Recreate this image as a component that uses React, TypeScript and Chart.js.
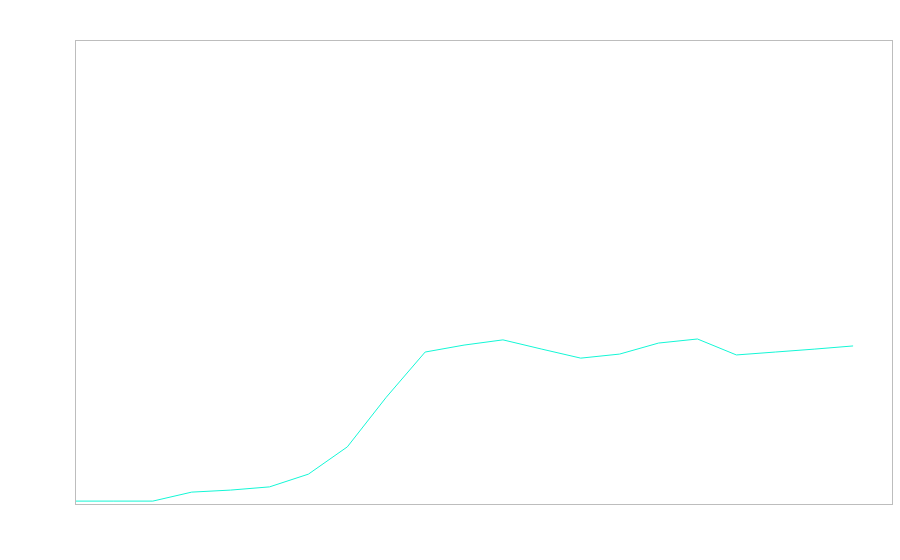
import React, { useEffect, useRef } from "react";
import { Chart, registerables } from "chart.js";

Chart.register(...registerables);

const categories: string[] = [
  "1", "2", "3", "4", "5", "6", "7", "8", "9", "10", "11",
  "12", "13", "14", "15", "16", "17", "18", "19", "20", "21", "22",
];

const seriesValues: (number | null)[] = [
  1.0, 1.0, 1.0, 4.1, 4.8, 5.9, 10.3, 19.7, 36.8, 52.4, 54.8,
  56.6, 53.4, 50.3, 51.7, 55.5, 56.9, 51.4, 52.4, 53.4, 54.5, null,
];

const yMin = 0;
const yMax = 160;

const frameBox = {
  id: "frameBox",
  afterDraw(chart: any) {
    const { ctx, chartArea } = chart;
    ctx.save();
    ctx.strokeStyle = "#bdbdbd";
    ctx.lineWidth = 1;
    ctx.strokeRect(
      Math.round(chartArea.left) + 0.5,
      Math.round(chartArea.top) + 0.5,
      Math.round(chartArea.right - chartArea.left),
      Math.round(chartArea.bottom - chartArea.top)
    );
    ctx.restore();
  },
};

export default function App() {
  const ref = useRef<HTMLCanvasElement | null>(null);

  useEffect(() => {
    if (!ref.current) return;
    const chart = new Chart(ref.current, {
      type: "line",
      data: {
        labels: categories,
        datasets: [
          {
            data: seriesValues,
            borderColor: "#14f7d6",
            borderWidth: 1,
            pointRadius: 0,
            tension: 0,
            fill: false,
          },
        ],
      },
      options: {
        animation: false,
        responsive: false,
        maintainAspectRatio: false,
        layout: { padding: { left: 75, top: 40, right: 8, bottom: 56 } },
        plugins: {
          legend: { display: false },
          tooltip: { enabled: false },
        },
        scales: {
          x: { display: false, offset: false },
          y: { display: false, min: yMin, max: yMax },
        },
      },
      plugins: [frameBox],
    });
    return () => chart.destroy();
  }, []);

  return (
    <div style={{ position: "fixed", left: 0, top: 0, width: 900, height: 560, background: "#fff" }}>
      <canvas ref={ref} width={900} height={560} style={{ width: 900, height: 560 }} />
    </div>
  );
}
